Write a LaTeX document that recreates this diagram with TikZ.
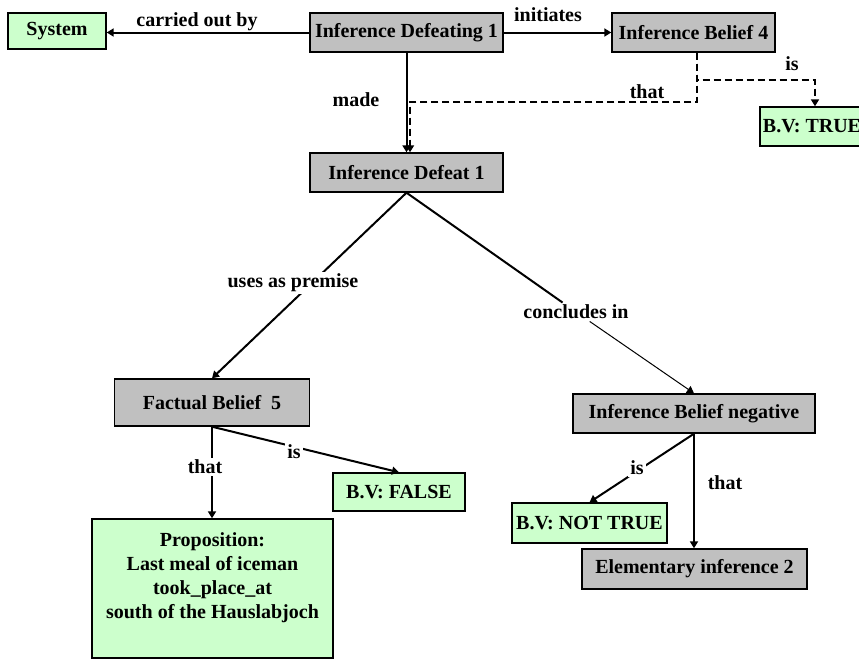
\documentclass[tikz,border=0pt]{standalone}
\usepackage{fontspec}
\setmainfont{Liberation Serif}
\usetikzlibrary{arrows.meta}
\definecolor{boxgray}{RGB}{192,192,192}
\definecolor{boxgreen}{RGB}{204,255,204}
\begin{document}
\begin{tikzpicture}[x=0.5pt,y=-0.5pt,
  font=\fontsize{10}{12}\selectfont\bfseries,
  box/.style={draw=black, line width=0.7pt, inner sep=0pt, align=center},
  graybox/.style={box, fill=boxgray},
  greenbox/.style={box, fill=boxgreen},
  lbl/.style={inner sep=1pt},
  cut/.style={lbl, fill=white},
  link/.style={line width=1pt, -{Triangle[length=3.5pt,width=4pt]}},
  plain/.style={line width=1pt},
  thinlink/.style={line width=0.5pt, -{Triangle[length=3.5pt,width=4pt]}},
  dlink/.style={link, dash pattern=on 3.5pt off 2pt},
]
\useasboundingbox (0,0) rectangle (859,660);
\clip (0,0) rectangle (859,660);

% concepts
\node[greenbox, minimum width=49pt,  minimum height=18pt]   (sys) at (57,31)      {System};
\node[graybox,  minimum width=96.5pt, minimum height=19.5pt] (idg) at (406.5,32.5) {Inference Defeating 1};
\node[graybox,  minimum width=81.5pt, minimum height=19.5pt] (ib4) at (693.5,32.5) {Inference Belief 4};
\node[greenbox, minimum width=52pt,  minimum height=19.5pt] (bvt) at (812,126.5)  {B.V: TRUE};
\node[graybox,  minimum width=96.5pt, minimum height=19.5pt] (idf) at (406.5,172.5) {Inference Defeat 1};
\node[graybox,  minimum width=97.5pt, minimum height=23.5pt] (fb5) at (212,402.5)  {Factual Belief\ \ 5};
\node[greenbox, minimum width=66pt,  minimum height=19pt]   (bvf) at (399,492)    {B.V: FALSE};
\node[greenbox, minimum width=120.5pt, minimum height=69.5pt] (prop) at (212.5,588.5) {};
\node[align=center, inner sep=0pt] (proptext) at (212.5,578)
  {Proposition:\\Last meal of iceman\\took\_place\_at\\south of the Hauslabjoch};
\node[graybox,  minimum width=121pt, minimum height=19.5pt] (ibn) at (694,413.5)  {Inference Belief negative};
\node[greenbox, minimum width=77.5pt, minimum height=20pt]  (bvn) at (589.5,523)  {B.V: NOT TRUE};
\node[graybox,  minimum width=112.5pt, minimum height=20pt] (ei2) at (694.5,569)  {Elementary inference 2};

% top row
\draw[link] (idg.west) -- (idg.west -| sys.east);
\node[lbl] (lcarried) at (197,22) {carried out by};
\draw[link] (idg.east) -- (ib4.west);
\node[lbl] (linit) at (548,15) {initiates};
\draw[link] (idg.south) -- (idf.north);
\node[lbl] (lmade) at (356,100) {made};

% dashed links of Inference Belief 4
\coordinate (dv) at (697,102);
\coordinate (dl) at (410,102);
\coordinate (dr) at (815,80);
\draw[dlink] (ib4.south -| dv) -- (dv) -- (dl) -- (dl |- idf.north);
\draw[dlink] (ib4.south -| dv) |- (dr) -- (dr |- bvt.north);
\node[lbl] (lthat1) at (647,92) {that};
\node[lbl] (lis1) at (792,64) {is};

% Inference Defeat 1 branches
\draw[link] (idf.south) -- (fb5.north);
\node[cut] (lprem) at (293,283) {uses as premise};
\node[cut] (lconc) at (576,312) {concludes in};
\draw[plain] (idf.south) -- (lconc);
\draw[thinlink] (lconc) -- (ibn.north);

% Factual Belief 5
\draw[link] (fb5.south) -- (fb5.south |- prop.north);
\node[cut] (lthat2) at (205,467) {that};
\draw[link] (fb5.south) -- (bvf.north);
\node[cut] (lis2) at (294,452) {is};

% Inference Belief negative
\draw[link] (ibn.south) -- (bvn.north);
\node[cut] (lis3) at (637,468) {is};
\draw[link] (ibn.south) -- (ibn.south |- ei2.north);
\node[lbl] (lthat3) at (725,483) {that};
\end{tikzpicture}
\end{document}
